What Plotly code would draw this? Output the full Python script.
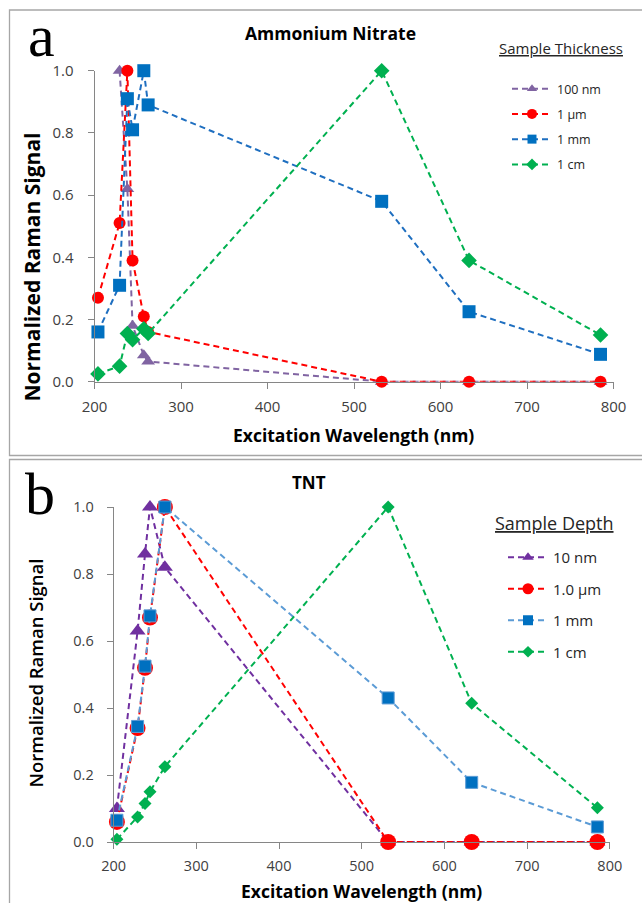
import plotly.graph_objects as go

W, H = 642, 903

# ---------------- data ----------------
# (a) Ammonium Nitrate, sample thickness series
an_wl_100nm = [229, 238, 244, 257, 262, 532, 633, 785]
an_100nm = [1.00, 0.62, 0.18, 0.085, 0.065, 0.0, 0.0, 0.0]
an_wl = [204, 229, 238, 244, 257, 262, 532, 633, 785]
an_1um = [0.27, 0.51, 1.00, 0.39, 0.21, 0.16, 0.0, 0.0, 0.0]
an_1mm = [0.16, 0.31, 0.91, 0.81, 1.00, 0.89, 0.58, 0.225, 0.088]
an_1cm = [0.025, 0.05, 0.155, 0.135, 0.17, 0.155, 1.00, 0.39, 0.15]

# (b) TNT, sample depth series
tnt_wl = [204, 229, 238, 244, 262, 532, 633, 785]
tnt_10nm = [0.10, 0.63, 0.86, 1.00, 0.82, 0.0, 0.0, 0.0]
tnt_1um = [0.06, 0.34, 0.52, 0.67, 1.00, 0.0, 0.0, 0.0]
tnt_1mm = [0.065, 0.345, 0.525, 0.675, 1.00, 0.43, 0.178, 0.045]
tnt_1cm = [0.008, 0.075, 0.115, 0.15, 0.225, 1.00, 0.414, 0.102]

x_ticks = [200, 300, 400, 500, 600, 700, 800]
y_ticks = [0.0, 0.2, 0.4, 0.6, 0.8, 1.0]

FONT = "Open Sans"
DASH = "6px,4px"


def px(x):
    return x / W


def py(y):
    return 1 - y / H


fig = go.Figure()

# series: (x, y, name, colour, line colour, symbol, size, legend marker size, edge)
panel_a = [
    (an_wl_100nm, an_100nm, "100 nm", "#8064A2", "#8064A2", "triangle-up", 12, 9, None),
    (an_wl, an_1um, "1 µm", "#FF0000", "#FF0000", "circle", 12, 10, None),
    (an_wl, an_1mm, "1 mm", "#0070C0", "#1F6FC0", "square", 13, 9, None),
    (an_wl, an_1cm, "1 cm", "#00B050", "#00B050", "diamond", 12, 9, None),
]
panel_b = [
    (tnt_wl, tnt_10nm, "10 nm", "#7030A0", "#7030A0", "triangle-up", 14, 10, None),
    (tnt_wl, tnt_1um, "1.0 µm", "#FF0000", "#FF0000", "circle", 16, 11, None),
    (tnt_wl, tnt_1mm, "1 mm", "#0070C0", "#5B9BD5", "square", 12, 10, "#5B9BD5"),
    (tnt_wl, tnt_1cm, "1 cm", "#00B050", "#00B050", "diamond", 10, 9, None),
]


def add_panel(series, xa, ya, legend_id):
    for i, (xs, ys, name, col, lcol, sym, size, lsize, edge) in enumerate(series):
        marker = dict(symbol=sym, size=size, color=col,
                      line=dict(width=1 if edge else 0, color=edge or col))
        fig.add_trace(go.Scatter(
            x=xs, y=ys, mode="lines+markers", name=name,
            line=dict(color=lcol, width=2, dash=DASH),
            marker=marker, cliponaxis=False, showlegend=False,
            xaxis=xa, yaxis=ya, hoverinfo="x+y+name"))
    for i, (xs, ys, name, col, lcol, sym, size, lsize, edge) in enumerate(series):
        # legend entry with a smaller key marker
        fig.add_trace(go.Scatter(
            x=[None], y=[None], mode="lines+markers", name=name,
            line=dict(color=lcol, width=2, dash=DASH),
            marker=dict(symbol=sym, size=lsize, color=col, line=dict(width=0)),
            showlegend=True, legend=legend_id, legendgroup=f"{legend_id}_{i}",
            xaxis=xa, yaxis=ya))


add_panel(panel_a, "x", "y", "legend")
add_panel(panel_b, "x2", "y2", "legend2")

axis_common = dict(
    showline=True, linecolor="#868686", linewidth=1,
    ticks="outside", ticklen=6, tickcolor="#868686", tickwidth=1,
    showgrid=False, zeroline=False,
)

fig.update_layout(
    width=W, height=H, autosize=False,
    margin=dict(l=0, r=0, t=0, b=0, autoexpand=False),
    paper_bgcolor="white", plot_bgcolor="white",
    font=dict(family=FONT, color="#262626"),
    xaxis=dict(domain=[px(94.5), px(613.5)], range=[200, 800], tickvals=x_ticks,
               anchor="y", tickfont=dict(size=15, color="#404040"),
               ticklabelstandoff=5, **axis_common),
    yaxis=dict(domain=[py(381.7), py(70.7)], range=[0, 1], tickvals=y_ticks,
               tickformat=".1f", anchor="x", tickfont=dict(size=15, color="#404040"),
               ticklabelstandoff=11, **axis_common),
    xaxis2=dict(domain=[px(113.6), px(609.8)], range=[200, 800], tickvals=x_ticks,
                anchor="y2", tickfont=dict(size=14.5, color="#404040"),
                ticklabelstandoff=5, **axis_common),
    yaxis2=dict(domain=[py(842), py(507)], range=[0, 1], tickvals=y_ticks,
                tickformat=".1f", anchor="x2", tickfont=dict(size=14.5, color="#404040"),
                ticklabelstandoff=10, **axis_common),
    legend=dict(x=px(507), y=py(74), xanchor="left", yanchor="top",
                bgcolor="rgba(0,0,0,0)", borderwidth=0,
                font=dict(family=FONT, size=12.5, color="#262626"),
                traceorder="grouped", tracegroupgap=6, itemwidth=40),
    legend2=dict(x=px(503), y=py(541), xanchor="left", yanchor="top",
                 bgcolor="rgba(0,0,0,0)", borderwidth=0,
                 font=dict(family=FONT, size=15, color="#262626"),
                 traceorder="grouped", tracegroupgap=9, itemwidth=40),
    showlegend=True,
)

# panel frames
for y0, y1 in [(10, 455.5), (459.5, 930)]:
    fig.add_shape(type="rect", xref="paper", yref="paper",
                  x0=px(9.5), x1=px(700), y0=py(y1), y1=py(y0),
                  line=dict(color="#A6A6A6", width=1.3), fillcolor="rgba(0,0,0,0)")


def note(text, x, y, size, weight="normal", angle=0, family=FONT, color="#000000",
         underline=False):
    f = dict(family=family, size=size, color=color, weight=weight)
    if underline:
        f["lineposition"] = "under"
    fig.add_annotation(text=text, x=px(x), y=py(y), xref="paper", yref="paper",
                       showarrow=False, xanchor="center", yanchor="middle",
                       textangle=angle, font=f)


# panel letters
note("a", 41.5, 36, 60, family="Liberation Serif")
note("b", 40, 494, 60, family="Liberation Serif")

# chart titles
note("Ammonium Nitrate", 330.8, 33, 17.5, weight="bold")
note("TNT", 309, 483, 17, weight="bold")

# legend headings
note("Sample Thickness", 560.5, 48, 15, color="#262626", underline=True)
note("Sample Depth", 554, 523, 18, color="#262626", underline=True)

# axis titles
note("Excitation Wavelength (nm)", 354, 435, 17.5, weight="bold")
note("Normalized Raman Signal", 31.5, 267, 21, weight="bold", angle=-90)
note("Excitation Wavelength (nm)", 361, 891, 17.5, weight="bold")
note("Normalized Raman Signal", 35, 673.5, 18.5, weight=600, angle=-90)

fig.write_html("out.html")
